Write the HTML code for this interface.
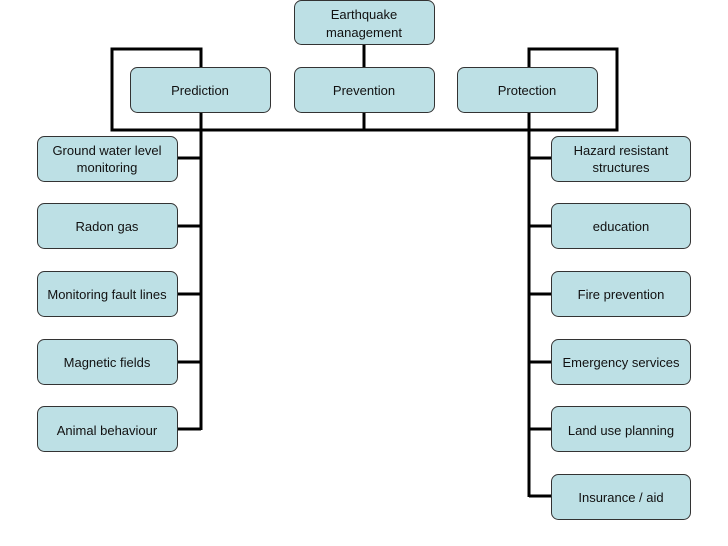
<!DOCTYPE html>
<html><head><meta charset="utf-8"><style>
html,body{margin:0;padding:0;background:#fff;}
svg{display:block;}
text{font-family:"Liberation Sans",sans-serif;font-size:13px;fill:#111;text-anchor:middle;}
</style></head><body>
<svg width="728" height="546" viewBox="0 0 728 546" xmlns="http://www.w3.org/2000/svg">
<g stroke="#000" stroke-width="3" fill="none">
<line x1="364" y1="44" x2="364" y2="68"/>
<polyline points="201,67 201,49 112,49 112,130 617,130 617,49 529,49 529,67"/>
<line x1="364" y1="112" x2="364" y2="130"/>
<line x1="201" y1="112" x2="201" y2="430"/>
<line x1="529" y1="112" x2="529" y2="497"/>
<line x1="178" y1="158" x2="201" y2="158"/>
<line x1="178" y1="226" x2="201" y2="226"/>
<line x1="178" y1="294" x2="201" y2="294"/>
<line x1="178" y1="362" x2="201" y2="362"/>
<line x1="178" y1="429" x2="201" y2="429"/>
<line x1="529" y1="158" x2="551" y2="158"/>
<line x1="529" y1="226" x2="551" y2="226"/>
<line x1="529" y1="294" x2="551" y2="294"/>
<line x1="529" y1="362" x2="551" y2="362"/>
<line x1="529" y1="429" x2="551" y2="429"/>
<line x1="529" y1="496" x2="551" y2="496"/>
</g>
<g fill="#bde0e5" stroke="#333" stroke-width="1">
<rect x="294.5" y="0.5" width="140" height="44" rx="7"/>
<rect x="130.5" y="67.5" width="140" height="45" rx="7"/>
<rect x="294.5" y="67.5" width="140" height="45" rx="7"/>
<rect x="457.5" y="67.5" width="140" height="45" rx="7"/>
<rect x="37.5" y="136.5" width="140" height="45" rx="7"/>
<rect x="37.5" y="203.5" width="140" height="45" rx="7"/>
<rect x="37.5" y="271.5" width="140" height="45" rx="7"/>
<rect x="37.5" y="339.5" width="140" height="45" rx="7"/>
<rect x="37.5" y="406.5" width="140" height="45" rx="7"/>
<rect x="551.5" y="136.5" width="139" height="45" rx="7"/>
<rect x="551.5" y="203.5" width="139" height="45" rx="7"/>
<rect x="551.5" y="271.5" width="139" height="45" rx="7"/>
<rect x="551.5" y="339.5" width="139" height="45" rx="7"/>
<rect x="551.5" y="406.5" width="139" height="45" rx="7"/>
<rect x="551.5" y="474.5" width="139" height="45" rx="7"/>
</g>
<text x="364" y="19">Earthquake</text>
<text x="364" y="37">management</text>
<text x="200" y="95">Prediction</text>
<text x="364" y="95">Prevention</text>
<text x="527" y="95">Protection</text>
<text x="107" y="155">Ground water level</text>
<text x="107" y="172">monitoring</text>
<text x="107" y="231">Radon gas</text>
<text x="107" y="299">Monitoring fault lines</text>
<text x="107" y="367">Magnetic fields</text>
<text x="107" y="435">Animal behaviour</text>
<text x="621" y="155">Hazard resistant</text>
<text x="621" y="172">structures</text>
<text x="621" y="231">education</text>
<text x="621" y="299">Fire prevention</text>
<text x="621" y="367">Emergency services</text>
<text x="621" y="435">Land use planning</text>
<text x="621" y="502">Insurance / aid</text>
</svg>
</body></html>
